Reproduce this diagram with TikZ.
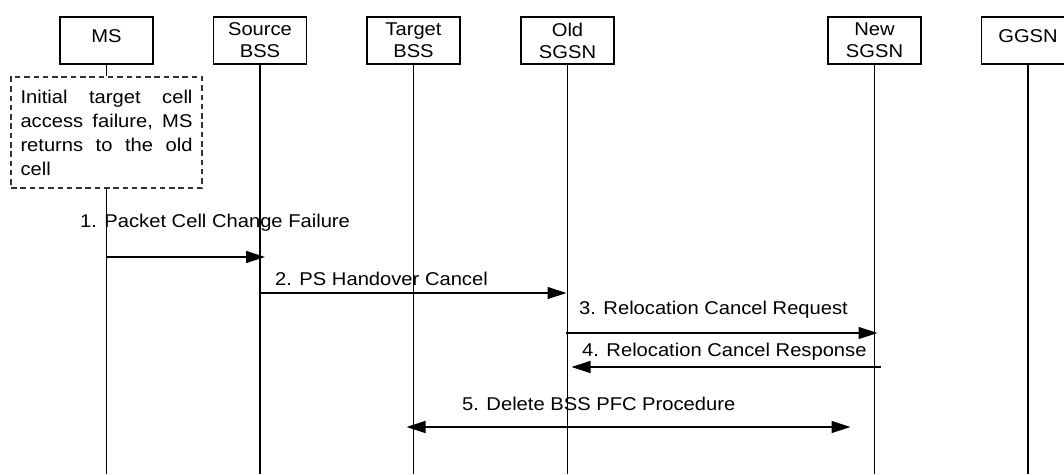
\documentclass[tikz,border=0pt]{standalone}
\usepackage{fontspec}
\setmainfont{Liberation Sans}[FakeStretch=1.09]
\usetikzlibrary{arrows.meta}
\newcommand{\lblfont}{\fontsize{18.5}{22}\selectfont}
\newcommand{\jline}[1]{\leavevmode\hbox to 172pt{#1}}
\begin{document}
\begin{tikzpicture}[x=1pt,y=-1pt,
  ent/.style={draw, line width=1.8pt, minimum width=93pt, minimum height=47pt,
    inner sep=0pt, align=center, font=\lblfont},
  onel/.style={text depth=9pt},
  life/.style={line width=1.8pt},
  msg/.style={line width=1.3pt, -{Triangle[length=19pt,width=12pt]}},
  bimsg/.style={line width=1.3pt, {Triangle[length=19pt,width=12pt]}-{Triangle[length=19pt,width=12pt]}},
  lbl/.style={anchor=base west, inner sep=0pt, font=\lblfont},
  notebox/.style={draw=black!80, dashed, dash pattern=on 5.5pt off 3.8pt, line width=1.3pt,
    minimum width=191pt, minimum height=111pt, inner sep=0pt, text width=172pt,
    align=left, font=\fontsize{18.5}{24}\selectfont}]
\useasboundingbox (0,0) rectangle (1064,474);

% entities
\node[ent, onel] (ms)  at (106.5,40.5) {MS};
\node[ent] (src) at (260,40.5) {Source\\BSS};
\node[ent] (tgt) at (413.5,40.5) {Target\\BSS};
\node[ent] (old) at (567.5,40.5) {Old\\SGSN};
\node[ent] (new) at (874.5,40.5) {New\\SGSN};
\node[ent, onel] (ggsn) at (1028,40.5) {GGSN};

% note
\node[notebox] (note) at (106.5,132.5) {%
  \jline{Initial\hfill target\hfill cell}\\
  \jline{access\hfill failure,\hfill MS}\\
  \jline{returns\hfill to\hfill the\hfill old}\\
  cell};

% lifelines
\coordinate (bot) at (0,474);
\draw[life] (ms.south) -- (note.north);
\draw[life] (note.south) -- (ms.south |- bot);
\draw[life] (src.south) -- (src.south |- bot);
\draw[life] (tgt.south) -- (tgt.south |- bot);
\draw[life] (old.south) -- (old.south |- bot);
\draw[life] (new.south) -- (new.south |- bot);
\draw[life] (ggsn.south) -- (ggsn.south |- bot);

% message rows
\coordinate (m1) at (0,257);
\coordinate (m2) at (0,293);
\coordinate (m3) at (0,333);
\coordinate (m4) at (0,367);
\coordinate (m5) at (0,427);

\draw[msg, shorten >=-5pt] (ms |- m1) -- (src |- m1);
\node[lbl] (l1) at (80,227) {1. Packet Cell Change Failure};

\draw[msg, shorten >=1pt] (src |- m2) -- (old |- m2);
\node[lbl] (l2) at (275,285) {2. PS Handover Cancel};

\draw[msg, shorten <=-2pt, shorten >=-3pt] (old |- m3) -- (new |- m3);
\node[lbl] (l3) at (579,314) {3. Relocation Cancel Request};

\draw[msg, shorten <=-6pt, shorten >=4pt] (new |- m4) -- (old |- m4);
\node[lbl] (l4) at (582,356) {4. Relocation Cancel Response};

\draw[bimsg, shorten <=-7pt, shorten >=24pt] (tgt |- m5) -- (new |- m5);
\node[lbl] (l5) at (462,410) {5. Delete BSS PFC Procedure};
\end{tikzpicture}
\end{document}
